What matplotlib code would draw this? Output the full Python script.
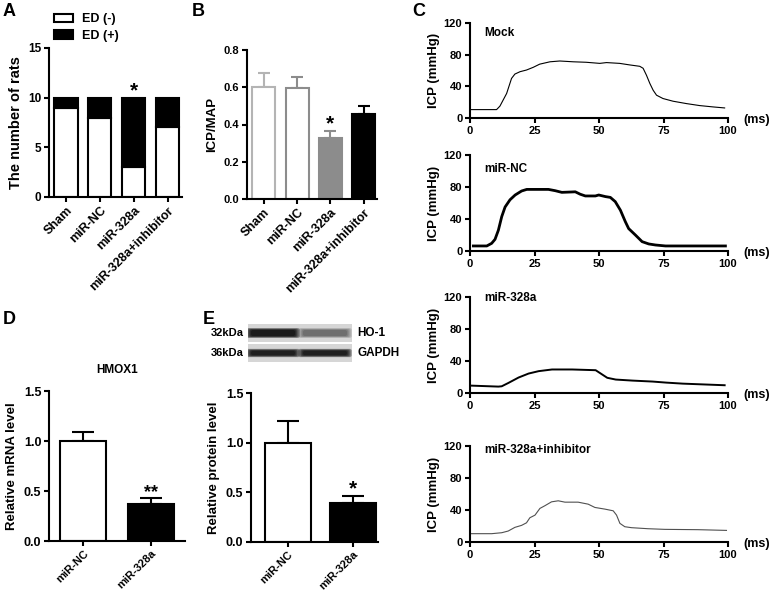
import numpy as np
import matplotlib
matplotlib.use('Agg')
import matplotlib.pyplot as plt
from matplotlib.patches import Rectangle, FancyBboxPatch

plt.rcParams.update({
    'font.family': ['Liberation Sans', 'DejaVu Sans'],
    'font.weight': 'bold',
    'axes.labelweight': 'bold',
    'axes.linewidth': 1.5,
    'xtick.major.width': 1.5,
    'ytick.major.width': 1.5,
    'xtick.major.size': 3.5,
    'ytick.major.size': 3.5,
    'xtick.major.pad': 2,
    'ytick.major.pad': 2,
    'xtick.labelsize': 8,
    'ytick.labelsize': 8,
    'axes.labelsize': 9.5,
})

# ---- data ----
groups4 = ['Sham', 'miR-NC', 'miR-328a', 'miR-328a+inhibitor']
ed_neg = [9, 8, 3, 7]
ed_pos = [1, 2, 7, 3]

icp_map = [0.600, 0.594, 0.325, 0.456]
icp_map_sem = [0.078, 0.063, 0.041, 0.043]

groups2 = ['miR-NC', 'miR-328a']
hmox1_mrna = [1.0, 0.37]
hmox1_mrna_sem = [0.093, 0.057]
ho1_protein = [1.0, 0.394]
ho1_protein_sem = [0.223, 0.067]

blot_rows = ['HO-1', 'GAPDH']
blot_kda = ['32kDa', '36kDa']
blot_intensity = [[0.95, 0.35], [0.9, 0.9]]

# ICP traces (ms, mmHg)
mock_t = [0.6, 10.3, 11.6, 14.2, 16.1, 17.4, 19.4, 21.9, 24.5, 27.0, 31.0, 34.8, 40.0, 45.0, 50.3,
          52.9, 58.0, 62.0, 65.8, 67.1, 68.4, 69.7, 71.0, 72.3, 74.8, 78.7, 83.9, 89.0, 94.2, 98.7]
mock_v = [10.6, 10.6, 15, 31, 50, 55.5, 58.5, 60.6, 64, 68, 71, 72, 71, 70.4, 69,
          70, 69, 67, 65.3, 62.8, 54, 43.7, 35, 28.8, 24.6, 21.2, 18.2, 15.7, 14, 12.7]
nc_t = [1.3, 6.5, 8.4, 9.7, 11.0, 12.3, 13.6, 15.5, 17.5, 20.0, 22.0, 30.4, 33.0, 35.6, 39.5, 40.8,
        42.7, 44.7, 48.6, 49.9, 52.5, 54.4, 56.3, 58.3, 60.2, 61.5, 64.1, 66.7, 69.3, 71.9, 75.8, 99.0]
nc_v = [6.3, 6.3, 9.6, 14.6, 26, 43, 55, 64, 70, 75, 77, 77, 75.4, 73.3, 73.8, 74,
        71, 68.8, 68.8, 70, 68, 67, 61.7, 51, 36.7, 28, 20, 11.7, 8.8, 7.5, 6.3, 6.3]
m328_t = [0.6, 11.0, 12.3, 14.9, 18.8, 22.7, 26.6, 31.8, 39.6, 48.7, 51.3, 53.2, 56.5, 63.0, 70.8,
          76.0, 82.5, 89.0, 98.7]
m328_v = [9.2, 8.0, 8.4, 12.6, 19.3, 24.3, 27.3, 29.4, 29.4, 28.5, 23, 19, 16.8, 15.5, 14.3,
          13, 11.7, 10.9, 9.7]
inh_t = [0.6, 8.4, 12.3, 14.8, 17.4, 20.0, 21.9, 23.2, 25.2, 27.1, 29.0, 31.6, 34.2, 36.8, 41.9,
         45.8, 48.4, 52.3, 55.5, 56.8, 58.1, 60.0, 62.6, 69.0, 75.5, 88.4, 99.4]
inh_v = [10.4, 10.4, 11.6, 13.7, 18.3, 20.8, 24, 30.3, 33.6, 42, 45.3, 50.2, 51.5, 49.8, 49.8,
         47.3, 43.2, 41.1, 39, 33.6, 23.3, 19.1, 17.9, 16.6, 15.8, 15.4, 14.5]

trace_titles = ['Mock', 'miR-NC', 'miR-328a', 'miR-328a+inhibitor']

W, H = 774, 591


def box(x0, y0, x1, y1):
    # pixel box -> figure fraction
    return [x0 / W, 1 - y1 / H, (x1 - x0) / W, (y1 - y0) / H]


def prism(ax, ysize, xsize):
    ax.spines['top'].set_visible(False)
    ax.spines['right'].set_visible(False)
    ax.tick_params(axis='y', labelsize=ysize)
    ax.tick_params(axis='x', labelsize=xsize)


def star(ax, x, y, s, size):
    ax.annotate(s, xy=(x, y), xytext=(0, 1), textcoords='offset points',
                ha='center', va='baseline', fontsize=size)


fig = plt.figure(figsize=(7.74, 5.91), dpi=100)

# ---- A ----
axA = fig.add_axes(box(49, 48, 182, 197))
x4 = np.arange(4)
axA.bar(x4, ed_neg, 0.68, color='white', edgecolor='black', lw=1.5, label='ED (-)')
axA.bar(x4, ed_pos, 0.68, bottom=ed_neg, color='black', edgecolor='black', lw=1.5, label='ED (+)')
axA.set_xlim(-0.5, 3.42)
axA.set_ylim(0, 15)
axA.set_yticks([0, 5, 10, 15])
axA.set_xticks(x4, groups4, rotation=45, ha='right', rotation_mode='anchor')
axA.set_ylabel('The number of rats', fontsize=10.5, labelpad=4)
star(axA, 2, 10, '*', 15)
prism(axA, 8.5, 9)
axA.legend(loc='upper left', bbox_to_anchor=(48 / W, 1 - 7 / H), bbox_transform=fig.transFigure,
           frameon=False, fontsize=9, handlelength=1.5, handleheight=0.7, borderpad=0,
           labelspacing=0.35, handletextpad=0.7)

# ---- B ----
axB = fig.add_axes(box(247, 50, 377, 199))
edges = ['#b4b4b4', '#8c8c8c', '#8c8c8c', 'black']
fills = ['white', 'white', '#8c8c8c', 'black']
for i in range(4):
    axB.errorbar(i, icp_map[i], yerr=[[0], [icp_map_sem[i]]], fmt='none', ecolor=edges[i],
                 elinewidth=1.5, capsize=4, capthick=1.5, zorder=1)
axB.bar(x4, icp_map, 0.69, color=fills, edgecolor=edges, lw=1.5, zorder=2)
axB.set_xlim(-0.5, 3.4)
axB.set_ylim(0, 0.8)
axB.set_yticks(np.arange(0, 0.81, 0.2))
axB.yaxis.set_major_formatter(matplotlib.ticker.FormatStrFormatter('%.1f'))
axB.set_xticks(x4, groups4, rotation=45, ha='right', rotation_mode='anchor')
axB.set_ylabel('ICP/MAP', labelpad=4)
star(axB, 2, icp_map[2] + icp_map_sem[2], '*', 15)
prism(axB, 8, 9)

# ---- C ----
traces = [(mock_t, mock_v, 'black', 0.8), (nc_t, nc_v, 'black', 2.0),
          (m328_t, m328_v, 'black', 1.4), (inh_t, inh_v, '#505050', 0.8)]
c_rows = [(23, 118), (155, 251), (297, 393), (446, 542)]
title_y = [108, 102, 119, 115]
for (t, v, col, lw), (top, bot), title, ty in zip(traces, c_rows, trace_titles, title_y):
    ax = fig.add_axes(box(470, top, 728, bot))
    ax.plot(t, v, color=col, lw=lw)
    ax.set_xlim(0, 100)
    ax.set_ylim(0, 120)
    ax.set_xticks([0, 25, 50, 75, 100])
    ax.set_yticks([0, 40, 80, 120])
    ax.set_ylabel('ICP (mmHg)', labelpad=3)
    ax.text(5.5, ty, title, fontsize=8.5, ha='left', va='center')
    ax.text(1.06, -0.02, '(ms)', transform=ax.transAxes, fontsize=9, ha='left', va='center')
    prism(ax, 8, 8)

# ---- D ----
x2 = np.arange(2)
axD = fig.add_axes(box(49, 391, 185, 541))
axD.errorbar(x2, hmox1_mrna, yerr=[[0, 0], hmox1_mrna_sem], fmt='none', ecolor='black',
             elinewidth=1.5, capsize=8, capthick=1.5, zorder=1)
axD.bar(x2, hmox1_mrna, 0.68, color=['white', 'black'], edgecolor='black', lw=1.5, zorder=2)
axD.set_xlim(-0.5, 1.5)
axD.set_ylim(0, 1.5)
axD.set_yticks([0, 0.5, 1.0, 1.5])
axD.yaxis.set_major_formatter(matplotlib.ticker.FormatStrFormatter('%.1f'))
axD.set_xticks(x2, groups2, rotation=45, ha='right', rotation_mode='anchor')
axD.set_ylabel('Relative mRNA level', labelpad=4)
axD.set_title('HMOX1', fontsize=8.5, fontweight='bold', pad=13)
star(axD, 1, hmox1_mrna[1] + hmox1_mrna_sem[1], '**', 13)
prism(axD, 9, 8)

# ---- E ----
axE = fig.add_axes(box(251, 393, 378, 542))
axE.errorbar(x2, ho1_protein, yerr=[[0, 0], ho1_protein_sem], fmt='none', ecolor='black',
             elinewidth=1.5, capsize=8, capthick=1.5, zorder=1)
axE.bar(x2, ho1_protein, 0.7, color=['white', 'black'], edgecolor='black', lw=1.5, zorder=2)
axE.set_xlim(-0.56, 1.38)
axE.set_ylim(0, 1.5)
axE.set_yticks([0, 0.5, 1.0, 1.5])
axE.yaxis.set_major_formatter(matplotlib.ticker.FormatStrFormatter('%.1f'))
axE.set_xticks(x2, groups2, rotation=45, ha='right', rotation_mode='anchor')
axE.set_ylabel('Relative protein level', labelpad=4)
star(axE, 1, ho1_protein[1] + ho1_protein_sem[1], '*', 15)
prism(axE, 9, 8)

# western blot strip
axW = fig.add_axes(box(248, 324, 352, 362))
axW.set_xlim(0, 104)
axW.set_ylim(38, 0)
axW.axis('off')
for r, row in enumerate(blot_rows):
    y0 = r * 20
    axW.add_patch(Rectangle((0, y0), 104, 18, fc='#d6d6d6', ec='none'))
    bh = 6 if r == 0 else 4.5
    for lane, inten in enumerate(blot_intensity[r]):
        cx = 25 + lane * 52
        for k in range(5):
            grow = k * 1.2
            axW.add_patch(FancyBboxPatch((cx - 22 - grow, y0 + 9 - bh / 2 - grow * 0.4),
                                         44 + 2 * grow, bh + grow * 0.8,
                                         boxstyle='round,pad=0,rounding_size=2',
                                         fc='black', ec='none', alpha=inten * 0.35))
    fig.text(244 / W, 1 - (333 + r * 20) / H, blot_kda[r], fontsize=8, ha='right', va='center')
    fig.text(357 / W, 1 - (333 + r * 20) / H, row, fontsize=8.5, ha='left', va='center')

# panel letters
for lab, px, py in [('A', 3, 12), ('B', 192, 12), ('C', 412, 12), ('D', 3, 319), ('E', 203, 319)]:
    fig.text(px / W, 1 - py / H, lab, fontsize=13, fontweight='bold', ha='left', va='center')

fig.savefig('out.png', dpi=100)
